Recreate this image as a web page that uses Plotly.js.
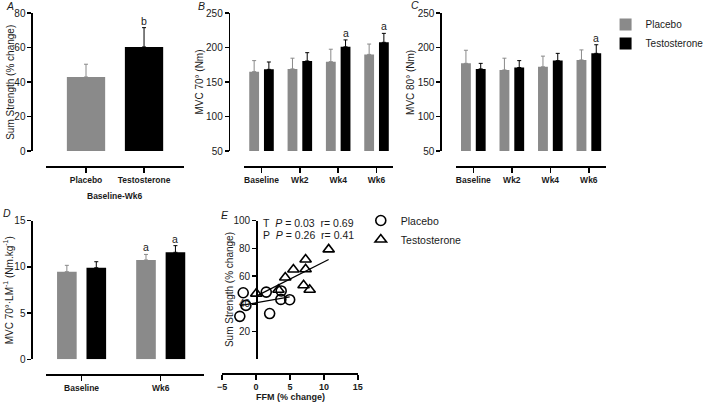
<!DOCTYPE html>
<html>
<head>
<meta charset="utf-8">
<script src="https://cdn.plot.ly/plotly-3.0.1.min.js"></script>
<style>html,body{margin:0;padding:0;background:#fff;}#chart{width:709px;height:409px;}</style>
</head>
<body>
<div id="chart"></div>
<script>
// ---------- DATA ----------
const aCategories = ['Placebo', 'Testosterone'];
const aValues = [42.9, 60.3];
const aErrors = [7.4, 11.2];
const aSig = ['', 'b'];

const weekCategories = ['Baseline', 'Wk2', 'Wk4', 'Wk6'];
const bPlacebo = [165, 169, 179.5, 190];
const bPlaceboErr = [16, 15.5, 18, 15];
const bTestosterone = [168.3, 180.5, 201, 207.5];
const bTestosteroneErr = [10.7, 12, 10, 13];
const bSigPlacebo = ['', '', '', ''];
const bSigTestosterone = ['', '', 'a', 'a'];

const cPlacebo = [177, 167.5, 172, 182];
const cPlaceboErr = [19, 17, 15.5, 14.5];
const cTestosterone = [169, 171, 181, 191.5];
const cTestosteroneErr = [8, 10, 10.5, 12.5];
const cSigPlacebo = ['', '', '', ''];
const cSigTestosterone = ['', '', '', 'a'];

const dCategories = ['Baseline', 'Wk6'];
const dPlacebo = [9.48, 10.75];
const dPlaceboErr = [0.69, 0.6];
const dTestosterone = [9.91, 11.58];
const dTestosteroneErr = [0.65, 0.72];
const dSigPlacebo = ['', 'a'];
const dSigTestosterone = ['', 'a'];

const ePlaceboFFM = [-1.9, -1.5, -2.4, 1.5, 2.0, 3.7, 3.65, 4.95];
const ePlaceboStrength = [48, 38.9, 31, 48.5, 33, 49.3, 43.2, 43];
const eTestosteroneFFM = [0.03, 3.3, 4.3, 5.5, 7.3, 7.3, 7.0, 7.9, 10.7];
const eTestosteroneStrength = [47.4, 50.2, 59, 64.8, 72, 65, 53.4, 50.2, 79.3];
const eStats = ['T\u00a0\u00a0<i>P</i> = 0.03\u00a0\u00a0r= 0.69', 'P\u00a0\u00a0<i>P</i> = 0.26\u00a0\u00a0r= 0.41'];

// ---------- STYLE / LAYOUT HELPERS ----------
const W = 709, H = 409;
const FONT = '"Liberation Sans", Arial, Helvetica, sans-serif';
const GREY = '#8a8a8a', BLACK = '#000000', TXT = '#1a1a1a';
const px = v => v / W;
const py = v => 1 - v / H;

function errBars(arr, color) {
  return {type: 'data', symmetric: false, array: arr, arrayminus: arr.map(() => 0),
          color: color, thickness: 1, width: 2};
}
function barTrace(name, cats, vals, errs, color, xa, ya, offset, width, showlegend) {
  return {type: 'bar', name: name, x: cats, y: vals, xaxis: xa, yaxis: ya,
          offset: offset, width: width, marker: {color: color, line: {width: 0}},
          error_y: errBars(errs, color), showlegend: !!showlegend, legend: 'legend',
          hoverinfo: 'skip'};
}

const traces = [];
// A
traces.push(barTrace('Placebo', [aCategories[0]], [aValues[0]], [aErrors[0]], GREY, 'x', 'y', -0.33, 0.66, false));
traces.push(barTrace('Testosterone', [aCategories[1]], [aValues[1]], [aErrors[1]], BLACK, 'x', 'y', -0.33, 0.66, false));
// B
const GW = 0.256, GOFF = -0.32, TOFF = 0.064;
traces.push(barTrace('Placebo', weekCategories, bPlacebo, bPlaceboErr, GREY, 'x2', 'y2', GOFF, GW, true));
traces.push(barTrace('Testosterone', weekCategories, bTestosterone, bTestosteroneErr, BLACK, 'x2', 'y2', TOFF, GW, true));
// C
traces.push(barTrace('Placebo', weekCategories, cPlacebo, cPlaceboErr, GREY, 'x3', 'y3', GOFF, GW, false));
traces.push(barTrace('Testosterone', weekCategories, cTestosterone, cTestosteroneErr, BLACK, 'x3', 'y3', TOFF, GW, false));
// D
const DW = 0.248, DGOFF = -0.31, DTOFF = 0.062;
traces.push(barTrace('Placebo', dCategories, dPlacebo, dPlaceboErr, GREY, 'x4', 'y4', DGOFF, DW, false));
traces.push(barTrace('Testosterone', dCategories, dTestosterone, dTestosteroneErr, BLACK, 'x4', 'y4', DTOFF, DW, false));

// E scatter + regression
function linfit(xs, ys) {
  const n = xs.length;
  const mx = xs.reduce((a, b) => a + b, 0) / n, my = ys.reduce((a, b) => a + b, 0) / n;
  let sxy = 0, sxx = 0;
  for (let i = 0; i < n; i++) { sxy += (xs[i] - mx) * (ys[i] - my); sxx += (xs[i] - mx) ** 2; }
  const s = sxy / sxx;
  const x0 = Math.min(...xs), x1 = Math.max(...xs);
  return {x: [x0, x1], y: [my + s * (x0 - mx), my + s * (x1 - mx)]};
}
const fitP = linfit(ePlaceboFFM, ePlaceboStrength);
const fitT = linfit(eTestosteroneFFM, eTestosteroneStrength);
traces.push({type: 'scatter', mode: 'lines', x: fitP.x, y: fitP.y, xaxis: 'x5', yaxis: 'y5',
  line: {color: BLACK, width: 1.3}, showlegend: false, hoverinfo: 'skip'});
traces.push({type: 'scatter', mode: 'lines', x: fitT.x, y: fitT.y, xaxis: 'x5', yaxis: 'y5',
  line: {color: BLACK, width: 1.3}, showlegend: false, hoverinfo: 'skip'});
traces.push({type: 'scatter', mode: 'markers', name: 'Placebo', x: ePlaceboFFM, y: ePlaceboStrength,
  xaxis: 'x5', yaxis: 'y5', legend: 'legend2', cliponaxis: false,
  marker: {symbol: 'circle-open', size: 10, color: BLACK, line: {width: 1.6, color: BLACK}}});
traces.push({type: 'scatter', mode: 'markers', name: 'Testosterone', x: eTestosteroneFFM, y: eTestosteroneStrength,
  xaxis: 'x5', yaxis: 'y5', legend: 'legend2', cliponaxis: false,
  marker: {symbol: 'triangle-up-open', size: 10, color: BLACK, line: {width: 1.6, color: BLACK}}});

// ---------- AXES ----------
const topDom = [py(151), py(13)];
const botDom = [py(359.3), py(220.7)];
function catAxis(domX, posY, range) {
  return {domain: [px(domX[0]), px(domX[1])], anchor: 'free', position: py(posY), type: 'category',
    range: range, showline: true, linecolor: BLACK, linewidth: 1.5, ticks: 'outside', ticklen: 5,
    tickwidth: 1.5, tickcolor: BLACK, showgrid: false, zeroline: false, fixedrange: true,
    tickfont: {family: FONT, size: 8.5, color: TXT, weight: 'bold'}};
}
function valAxis(dom, posX, range, dtick, tickvals) {
  const ax = {domain: dom, anchor: 'free', position: px(posX), range: range, showline: true,
    linecolor: BLACK, linewidth: 1.5, ticks: 'outside', ticklen: 4, tickwidth: 1.5, tickcolor: BLACK,
    showgrid: false, zeroline: false, fixedrange: true,
    tickfont: {family: FONT, size: 10, color: TXT}};
  if (tickvals) { ax.tickmode = 'array'; ax.tickvals = tickvals; } else { ax.tick0 = range[0]; ax.dtick = dtick; }
  return ax;
}

const layout = {
  width: W, height: H, margin: {l: 0, r: 0, t: 0, b: 0}, paper_bgcolor: '#fff', plot_bgcolor: 'rgba(0,0,0,0)',
  font: {family: FONT, size: 10, color: TXT}, barmode: 'overlay', showlegend: true,
  xaxis: catAxis([47, 187], 166, [-0.686, 1.686]),
  yaxis: valAxis(topDom, 32, [0, 80], 20),
  xaxis2: catAxis([248, 400], 166, [-0.462, 3.436]),
  yaxis2: valAxis(topDom, 232.7, [50, 250], 50),
  xaxis3: catAxis([464, 616], 166, [-0.446, 3.434]),
  yaxis3: valAxis(topDom, 448, [50, 250], 50),
  xaxis4: catAxis([47, 208], 374, [-0.447, 1.553]),
  yaxis4: valAxis(botDom, 32, [0, 15], 5),
  xaxis5: Object.assign(valAxis([px(226), px(364)], 0, [-5, 15], 5), {anchor: 'free', position: py(373), ticklen: 5,
    tickfont: {family: FONT, size: 9, color: TXT, weight: 'bold'}}),
  yaxis5: valAxis(botDom, 260.5, [0, 100], null, [20, 40, 60, 80, 100]),
  legend: {x: px(616), y: py(10), xanchor: 'left', yanchor: 'top', bgcolor: 'rgba(0,0,0,0)',
    font: {family: FONT, size: 10, color: TXT}, itemclick: false, itemdoubleclick: false},
  legend2: {x: px(367), y: py(206), xanchor: 'left', yanchor: 'top', bgcolor: 'rgba(0,0,0,0)',
    font: {family: FONT, size: 10.5, color: TXT}, itemclick: false, itemdoubleclick: false},
  annotations: []
};
layout.xaxis5.domain = [px(226), px(364)];

const ann = layout.annotations;
function txt(text, x, y, opts) {
  ann.push(Object.assign({text: text, x: px(x), y: py(y), xref: 'paper', yref: 'paper', showarrow: false,
    xanchor: 'center', yanchor: 'middle', font: {family: FONT, size: 10, color: TXT}}, opts || {}));
}
// panel letters
[['A', 10, 6], ['B', 205, 6], ['C', 422, 5], ['D', 7, 213], ['E', 229, 215]].forEach(l =>
  txt('<i>' + l[0] + '</i>', l[1], l[2], {font: {family: FONT, size: 10.5, color: TXT}}));
// y-axis titles
txt('Sum Strength (% change)', 10, 82, {textangle: -90});
txt('MVC 70° (Nm)', 202, 82, {textangle: -90});
txt('MVC 80° (Nm)', 417, 82, {textangle: -90});
txt('MVC 70°·LM<sup>-1</sup> (Nm.kg<sup>-1</sup>)', 8.5, 290, {textangle: -90});
txt('Sum Strength (% change)', 233, 290, {textangle: -90});
// x-axis titles
txt('<b>Baseline-Wk6</b>', 117, 196, {font: {family: FONT, size: 8.5, color: TXT}});
txt('<b>FFM (% change)</b>', 295, 397, {font: {family: FONT, size: 9, color: TXT}});
// stats text
txt(eStats[0], 265, 223, {xanchor: 'left', font: {family: FONT, size: 10.5, color: TXT}});
txt(eStats[1], 265, 235, {xanchor: 'left', font: {family: FONT, size: 10.5, color: TXT}});

// significance letters above error bars
function sig(labels, vals, errs, xa, ya, off, wid) {
  labels.forEach((s, i) => {
    if (!s) return;
    ann.push({text: s, x: i + off + wid / 2, y: vals[i] + errs[i], xref: xa, yref: ya, showarrow: false,
      xanchor: 'center', yanchor: 'bottom', yshift: -1, font: {family: FONT, size: 10.5, color: TXT}});
  });
}
sig(aSig, aValues, aErrors, 'x', 'y', -0.33, 0.66);
sig(bSigPlacebo, bPlacebo, bPlaceboErr, 'x2', 'y2', GOFF, GW);
sig(bSigTestosterone, bTestosterone, bTestosteroneErr, 'x2', 'y2', TOFF, GW);
sig(cSigPlacebo, cPlacebo, cPlaceboErr, 'x3', 'y3', GOFF, GW);
sig(cSigTestosterone, cTestosterone, cTestosteroneErr, 'x3', 'y3', TOFF, GW);
sig(dSigPlacebo, dPlacebo, dPlaceboErr, 'x4', 'y4', DGOFF, DW);
sig(dSigTestosterone, dTestosterone, dTestosteroneErr, 'x4', 'y4', DTOFF, DW);

Plotly.newPlot('chart', traces, layout, {staticPlot: true, displayModeBar: false});
</script>
</body>
</html>
